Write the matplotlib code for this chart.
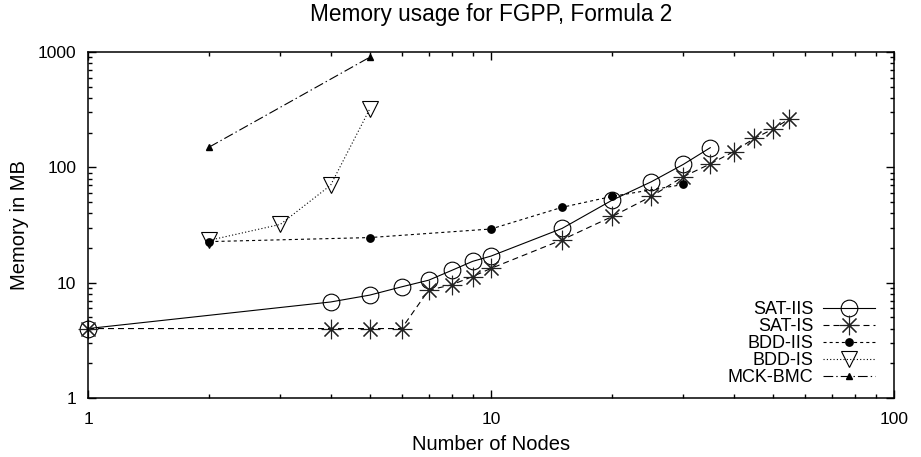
import matplotlib
matplotlib.use("Agg")
import matplotlib.pyplot as plt
from matplotlib.ticker import LogLocator, NullFormatter, FixedLocator, FixedFormatter

plt.rcParams['font.family'] = ['Liberation Sans', 'DejaVu Sans']
plt.rcParams['lines.scale_dashes'] = False

# Memory usage (MB) per number of nodes
sat_iis_x = [1, 4, 5, 6, 7, 8, 9, 10, 15, 20, 25, 30, 35]
sat_iis_y = [4.0, 6.8, 7.8, 9.2, 10.5, 12.8, 15.3, 17.0, 29.5, 52, 75, 106, 148]

sat_is_x = [1, 4, 5, 6, 7, 8, 9, 10, 15, 20, 25, 30, 35, 40, 45, 50, 55]
sat_is_y = [4.0, 4.0, 4.0, 4.0, 8.6, 9.6, 11.3, 13.3, 23.5, 37.5, 56, 83, 107, 137, 178, 214, 263]

bdd_iis_x = [2, 5, 10, 15, 20, 30]
bdd_iis_y = [22.7, 24.6, 29.2, 45, 56, 71]

bdd_is_x = [2, 3, 4, 5]
bdd_is_y = [23.3, 32, 70, 320]

mck_bmc_x = [2, 5]
mck_bmc_y = [150, 900]

x_ticks = [1, 10, 100]
x_tick_labels = ["1", "10", "100"]
y_ticks = [1, 10, 100, 1000]
y_tick_labels = ["1", "10", "100", "1000"]

fig = plt.figure(figsize=(9.21, 4.57), dpi=100)
ax = fig.add_axes([88 / 921, 59 / 457, 806 / 921, 346 / 457])

lw = 0.8
common = dict(color='black', lw=lw, clip_on=False)
ax.plot(sat_iis_x, sat_iis_y, linestyle='-',
        marker='o', markersize=12, markerfacecolor='none', markeredgecolor='black',
        markeredgewidth=0.8, label='SAT-IIS', **common)
ax.plot(sat_is_x, sat_is_y, linestyle=(0, (4.3, 2.9)),
        marker=(8, 2, 0), markersize=14, markeredgecolor='#222222',
        markeredgewidth=0.8, label='SAT-IS', **common)
ax.plot(bdd_iis_x, bdd_iis_y, linestyle=(0, (2.2, 2.2)),
        marker='o', markersize=5.3, markerfacecolor='black', markeredgecolor='black',
        label='BDD-IIS', **common)
ax.plot(bdd_is_x, bdd_is_y, linestyle=(0, (0.8, 1.6)),
        marker='v', markersize=12, markerfacecolor='none', markeredgecolor='black',
        markeredgewidth=0.8, label='BDD-IS', **common)
ax.plot(mck_bmc_x, mck_bmc_y, linestyle=(0, (7, 2.2, 1, 2.2)),
        marker='^', markersize=5, markerfacecolor='black', markeredgecolor='black',
        label='MCK-BMC', **common)

ax.set_xscale('log')
ax.set_yscale('log')
ax.set_xlim(1, 100)
ax.set_ylim(1, 1000)

ax.xaxis.set_major_locator(FixedLocator(x_ticks))
ax.xaxis.set_major_formatter(FixedFormatter(x_tick_labels))
ax.yaxis.set_major_locator(FixedLocator(y_ticks))
ax.yaxis.set_major_formatter(FixedFormatter(y_tick_labels))
ax.xaxis.set_minor_locator(LogLocator(base=10, subs=range(2, 10)))
ax.yaxis.set_minor_locator(LogLocator(base=10, subs=range(2, 10)))
ax.xaxis.set_minor_formatter(NullFormatter())
ax.yaxis.set_minor_formatter(NullFormatter())

ax.tick_params(which='both', direction='in', top=True, right=True, width=1.0)
ax.tick_params(which='major', length=5.5, labelsize=12.5)
ax.tick_params(axis='x', which='major', pad=10)
ax.tick_params(axis='y', which='major', pad=8.5)
ax.tick_params(which='minor', length=2.8)

for s in ax.spines.values():
    s.set_linewidth(1.1)

ax.set_xlabel('Number of Nodes', fontsize=14.5, labelpad=6)
ax.set_ylabel('Memory in MB', fontsize=14.5, labelpad=6)
ax.set_title('Memory usage for FGPP, Formula 2', fontsize=16.3, pad=22)

ax.legend(loc='lower right', bbox_to_anchor=(0.977, 0.035), frameon=False,
          markerfirst=False, fontsize=13, handlelength=2.9, handletextpad=0.55,
          labelspacing=0.0, borderpad=0, borderaxespad=0)

fig.savefig('out.png', dpi=100)
